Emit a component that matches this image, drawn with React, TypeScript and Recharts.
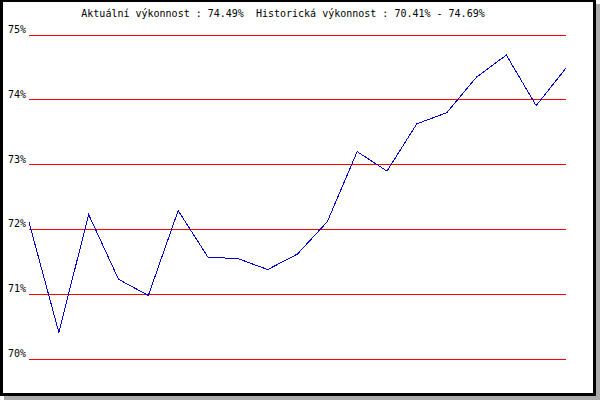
import { CartesianGrid, Line, LineChart, XAxis, YAxis } from 'recharts';

const points = ['1', '2', '3', '4', '5', '6', '7', '8', '9', '10', '11', '12', '13', '14', '15', '16', '17', '18', '19'];
const performance = [72.11, 70.41, 72.23, 71.23, 70.98, 72.29, 71.57, 71.55, 71.38, 71.62, 72.12, 73.2, 72.9, 73.63, 73.8, 74.35, 74.69, 73.91, 74.49];
const yTicks = [70, 71, 72, 73, 74, 75];
const title = 'Aktuální výkonnost : 74.49%  Historická výkonnost : 70.41% - 74.69%';

const data = points.map((p, i) => ({ p, value: performance[i] }));

const mono = '"DejaVu Sans Mono", monospace';

const PercentTick = (props: any) => {
  const { y, payload } = props;
  return (
    <text x={8} y={y - 2} fontFamily={mono} fontSize={10} fill="#000" textAnchor="start">
      {payload.value}%
    </text>
  );
};

export default function App() {
  return (
    <div style={{ position: 'absolute', left: 0, top: 0, width: 600, height: 400, background: '#fff' }}>
      <div
        style={{
          position: 'absolute',
          left: 0,
          top: 0,
          width: 596,
          height: 396,
          boxSizing: 'border-box',
          borderStyle: 'solid',
          borderColor: '#000',
          borderWidth: '2px 3px 3px 3px',
          boxShadow: '4px 4px 0 #aaaaaa',
        }}
      />
      <svg width={600} height={30} style={{ position: 'absolute', left: 0, top: 0 }}>
        <text x={283} y={17} textAnchor="middle" fontFamily={mono} fontSize={10} fill="#000" xmlSpace="preserve">
          {title}
        </text>
      </svg>
      <div style={{ position: 'absolute', left: 0, top: 0 }}>
        <LineChart width={600} height={400} data={data} margin={{ top: 35, right: 34, bottom: 41, left: 0 }}>
          <CartesianGrid vertical={false} stroke="#ff0000" strokeWidth={1} shapeRendering="crispEdges" />
          <XAxis dataKey="p" hide />
          <YAxis
            domain={[70, 75]}
            ticks={yTicks}
            width={29}
            axisLine={false}
            tickLine={false}
            tick={PercentTick}
            interval={0}
          />
          <Line
            type="linear"
            dataKey="value"
            stroke="#0000cc"
            strokeWidth={1}
            dot={false}
            isAnimationActive={false}
            shapeRendering="crispEdges"
          />
        </LineChart>
      </div>
    </div>
  );
}
